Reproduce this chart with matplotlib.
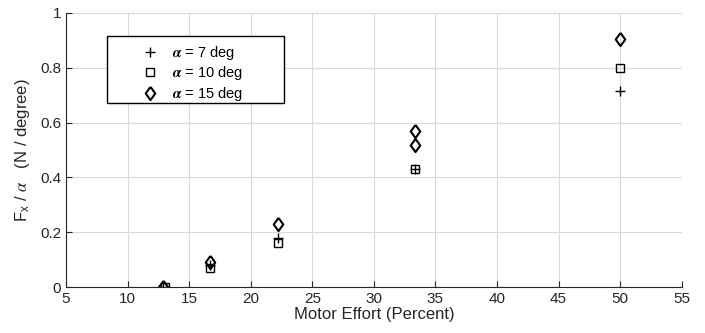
import matplotlib.pyplot as plt
from matplotlib.patches import Rectangle

plt.rcParams['font.family'] = ['Liberation Sans', 'DejaVu Sans']
plt.rcParams['mathtext.fontset'] = 'stix'

# motor effort (percent) for each series
effort_7 = [12.9, 16.7, 22.2, 33.3, 50.0]
effort_10 = [13.0, 16.7, 22.2, 33.3, 50.0]
effort_15 = [12.9, 16.7, 22.2, 33.3, 33.3, 50.0]

# force per degree
force_7 = [0.0, 0.08, 0.18, 0.43, 0.715]
force_10 = [0.0, 0.07, 0.16, 0.43, 0.80]
force_15 = [0.0, 0.09, 0.23, 0.57, 0.52, 0.905]

x_ticks = [5, 10, 15, 20, 25, 30, 35, 40, 45, 50, 55]
y_ticks = [0, 0.2, 0.4, 0.6, 0.8, 1]
y_tick_labels = ['0', '0.2', '0.4', '0.6', '0.8', '1']

# matlab style diamond, taller than wide
diamond = [(0, 1), (0.72, 0), (0, -1), (-0.72, 0), (0, 1)]

fig = plt.figure(figsize=(7.05, 3.33), dpi=100)
ax = fig.add_axes([0.0936, 0.138, 0.8734, 0.823])

ax.plot(effort_7, force_7, '+', color='black', ms=7, mew=1.0,
        label=r'$\boldsymbol{\alpha}$ = 7 deg')
ax.plot(effort_10, force_10, 's', color='black', mfc='none', ms=5.5, mew=1.0,
        label=r'$\boldsymbol{\alpha}$ = 10 deg')
ax.plot(effort_15, force_15, marker=diamond, ls='none', color='black',
        mfc='none', ms=9.5, mew=1.5, label=r'$\boldsymbol{\alpha}$ = 15 deg')

ax.set_xlim(5, 55)
ax.set_ylim(0, 1)
ax.set_xticks(x_ticks)
ax.set_yticks(y_ticks)
ax.set_yticklabels(y_tick_labels)
ax.tick_params(labelsize=11, direction='in', length=4, color='#262626',
               labelcolor='#262626', top=False, right=False)
ax.grid(color='#d9d9d9', linewidth=0.8)
ax.set_axisbelow(True)
for side in ['top', 'right']:
    ax.spines[side].set_visible(False)
for side in ['left', 'bottom']:
    ax.spines[side].set_color('#262626')

ax.set_xlabel('Motor Effort (Percent)', fontsize=12, color='#262626', labelpad=1)
ax.set_ylabel(r'F$_\mathregular{x}$ / $\alpha$   (N / degree)', fontsize=12,
              color='#262626', labelpad=6)

# legend without frame, box drawn separately to get matlab padding
leg = ax.legend(loc='upper left', bbox_to_anchor=(0.1185, 0.888), fontsize=10.5,
                frameon=False, borderpad=0, handletextpad=0.75,
                labelspacing=0.19, borderaxespad=0, handlelength=1.5)
box = Rectangle((0.0666, 0.672), 0.2874, 0.244, transform=ax.transAxes,
                facecolor='white', edgecolor='black', linewidth=1.0, zorder=4)
ax.add_patch(box)
leg.set_zorder(5)

fig.savefig('out.png', dpi=100)
